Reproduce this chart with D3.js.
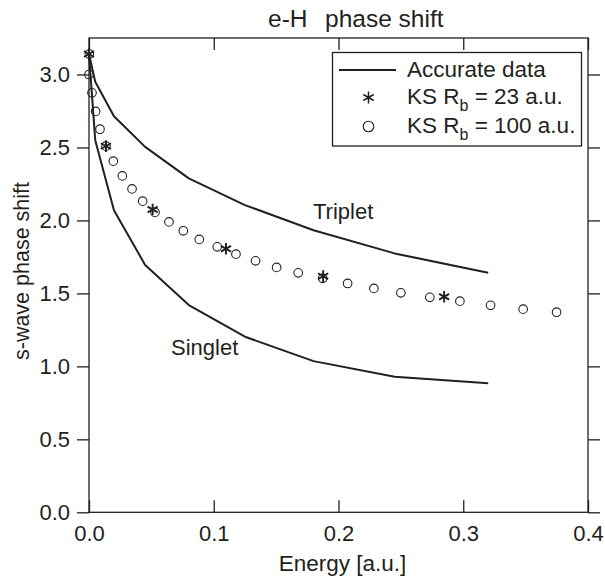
<!DOCTYPE html>
<html>
<head>
<meta charset="utf-8">
<script src="https://cdn.jsdelivr.net/npm/d3@7"></script>
<style>
  html, body { margin: 0; padding: 0; background: #fff; }
  #container { width: 605px; height: 577px; }
  text { font-family: "Liberation Sans", Arial, sans-serif; fill: #231f20; }
</style>
</head>
<body>
<div id="container"></div>
<script>
// 精确数据（能量 E = k^2/2）
const energyAccurate = [0, 0.005, 0.02, 0.045, 0.08, 0.125, 0.18, 0.245, 0.32];
const triplet = [3.14, 2.95, 2.714, 2.504, 2.288, 2.105, 1.933, 1.774, 1.641];
const singlet = [3.14, 2.55, 2.07, 1.695, 1.42, 1.203, 1.036, 0.929, 0.884];

// KS Rb = 23 a.u.
const energyKs23 = [0.0, 0.0136, 0.051, 0.1098, 0.1877, 0.2847];
const phaseKs23 = [3.14, 2.509, 2.075, 1.806, 1.618, 1.477];

// KS Rb = 100 a.u.
const energyKs100 = [
  0.0003, 0.0, 0.0024, 0.0053, 0.0088, 0.0136, 0.0195, 0.0267, 0.0345, 0.043,
  0.0529, 0.0641, 0.0756, 0.0884, 0.1028, 0.1178, 0.1335, 0.1504, 0.1677,
  0.1873, 0.2073, 0.2284, 0.25, 0.2732, 0.2973, 0.3219, 0.348, 0.3748
];
const phaseKs100 = [
  3.14, 3.0, 2.874, 2.747, 2.625, 2.509, 2.406, 2.305, 2.216, 2.132, 2.055,
  1.99, 1.929, 1.87, 1.819, 1.769, 1.723, 1.678, 1.641, 1.603, 1.568, 1.534,
  1.504, 1.473, 1.447, 1.418, 1.392, 1.371
];

const xTicks = [0, 0.1, 0.2, 0.3, 0.4];
const yTicks = [0, 0.5, 1.0, 1.5, 2.0, 2.5, 3.0];

const width = 605,
  height = 577;
const plotLeft = 89,
  plotRight = 588,
  plotTop = 38,
  plotBottom = 512.3;
const tickLen = 12;
const ink = "#231f20";
const fontSize = 22;

const svg = d3
  .select("#container")
  .append("svg")
  .attr("width", width)
  .attr("height", height)
  .attr("viewBox", [0, 0, width, height]);

const xScale = d3.scaleLinear([0, 0.4], [plotLeft, plotRight]);
const yScale = d3.scaleLinear([0, 3.25], [plotBottom, plotTop]);

// 坐标轴：x 方向刻度朝内，y 方向刻度朝外
const fmt = d3.format(".1f");

svg
  .append("g")
  .attr("transform", `translate(0, ${plotBottom})`)
  .call(d3.axisBottom(xScale).tickValues(xTicks).tickSize(-tickLen).tickFormat(fmt))
  .call((g) => g.select(".domain").remove())
  .call((g) => g.selectAll("line").attr("stroke", ink).attr("stroke-width", 1.3))
  .call((g) =>
    g.selectAll("text").attr("font-size", fontSize).attr("dy", 0).attr("y", 28.5).attr("fill", ink)
  );

svg
  .append("g")
  .attr("transform", `translate(0, ${plotTop})`)
  .call(d3.axisTop(xScale).tickValues(xTicks).tickSize(-tickLen).tickFormat(""))
  .call((g) => g.select(".domain").remove())
  .call((g) => g.selectAll("line").attr("stroke", ink).attr("stroke-width", 1.3));

svg
  .append("g")
  .attr("transform", `translate(${plotLeft}, 0)`)
  .call(d3.axisLeft(yScale).tickValues(yTicks).tickSize(tickLen).tickPadding(7).tickFormat(fmt))
  .call((g) => g.select(".domain").remove())
  .call((g) => g.selectAll("line").attr("stroke", ink).attr("stroke-width", 1.3))
  .call((g) => g.selectAll("text").attr("font-size", fontSize).attr("fill", ink));

svg
  .append("g")
  .attr("transform", `translate(${plotRight}, 0)`)
  .call(d3.axisRight(yScale).tickValues(yTicks).tickSize(tickLen).tickFormat(""))
  .call((g) => g.select(".domain").remove())
  .call((g) => g.selectAll("line").attr("stroke", ink).attr("stroke-width", 1.3));

// 图框
svg
  .append("rect")
  .attr("x", plotLeft)
  .attr("y", plotTop)
  .attr("width", plotRight - plotLeft)
  .attr("height", plotBottom - plotTop)
  .attr("fill", "none")
  .attr("stroke", ink)
  .attr("stroke-width", 1.3);

// 精确数据曲线
const line = d3
  .line()
  .x((d) => xScale(d[0]))
  .y((d) => yScale(d[1]));

[triplet, singlet].forEach((series) => {
  svg
    .append("path")
    .datum(d3.zip(energyAccurate, series))
    .attr("d", line)
    .attr("fill", "none")
    .attr("stroke", ink)
    .attr("stroke-width", 2)
    .attr("stroke-linejoin", "round");
});

// 星号标记
function starPath(r) {
  const a = Math.cos(Math.PI / 6) * r,
    b = Math.sin(Math.PI / 6) * r;
  return `M0,${-r}V${r}M${-a},${-b}L${a},${b}M${-a},${b}L${a},${-b}`;
}

svg
  .append("g")
  .attr("fill", "none")
  .attr("stroke", ink)
  .attr("stroke-width", 1.1)
  .selectAll("circle")
  .data(d3.zip(energyKs100, phaseKs100))
  .join("circle")
  .attr("cx", (d) => xScale(d[0]))
  .attr("cy", (d) => yScale(d[1]))
  .attr("r", 4.3);

svg
  .append("g")
  .attr("fill", "none")
  .attr("stroke", ink)
  .attr("stroke-width", 1.9)
  .selectAll("path")
  .data(d3.zip(energyKs23, phaseKs23))
  .join("path")
  .attr("transform", (d) => `translate(${xScale(d[0])}, ${yScale(d[1])})`)
  .attr("d", starPath(5.8));

// 曲线标注
svg.append("text").attr("x", 313).attr("y", 218.5).attr("font-size", fontSize).text("Triplet");
svg.append("text").attr("x", 171).attr("y", 355).attr("font-size", fontSize).text("Singlet");

// 标题与轴标题
const title = svg.append("text").attr("y", 26.5).attr("font-size", 24.5);
title.append("tspan").attr("x", 268).text("e-H");
title.append("tspan").attr("x", 325).text("phase shift");

svg
  .append("text")
  .attr("x", 342.5)
  .attr("y", 570.5)
  .attr("text-anchor", "middle")
  .attr("font-size", 22.5)
  .text("Energy [a.u.]");

svg
  .append("text")
  .attr("transform", "translate(29, 271) rotate(-90)")
  .attr("text-anchor", "middle")
  .attr("font-size", 21.5)
  .text("s-wave phase shift");

// 图例
const legend = svg.append("g");

legend
  .append("rect")
  .attr("x", 332.5)
  .attr("y", 52.5)
  .attr("width", 249)
  .attr("height", 93.5)
  .attr("fill", "#fff")
  .attr("stroke", ink)
  .attr("stroke-width", 1.3);

legend
  .append("line")
  .attr("x1", 339)
  .attr("x2", 396)
  .attr("y1", 70)
  .attr("y2", 70)
  .attr("stroke", ink)
  .attr("stroke-width", 2);

legend
  .append("path")
  .attr("transform", "translate(368.5, 97.5)")
  .attr("d", starPath(6))
  .attr("fill", "none")
  .attr("stroke", ink)
  .attr("stroke-width", 1.5);

legend
  .append("circle")
  .attr("cx", 368.5)
  .attr("cy", 126.5)
  .attr("r", 5.3)
  .attr("fill", "none")
  .attr("stroke", ink)
  .attr("stroke-width", 1.1);

legend.append("text").attr("x", 407).attr("y", 76.5).attr("font-size", 22.5).text("Accurate data");

[
  { y: 103.5, value: "23" },
  { y: 133, value: "100" }
].forEach((row) => {
  const t = legend.append("text").attr("x", 407).attr("y", row.y).attr("font-size", 22.5);
  t.append("tspan").text("KS R");
  t.append("tspan").attr("font-size", 16).attr("dy", 7).text("b");
  t.append("tspan").attr("dy", -7).text(` = ${row.value} a.u.`);
});
</script>
</body>
</html>
